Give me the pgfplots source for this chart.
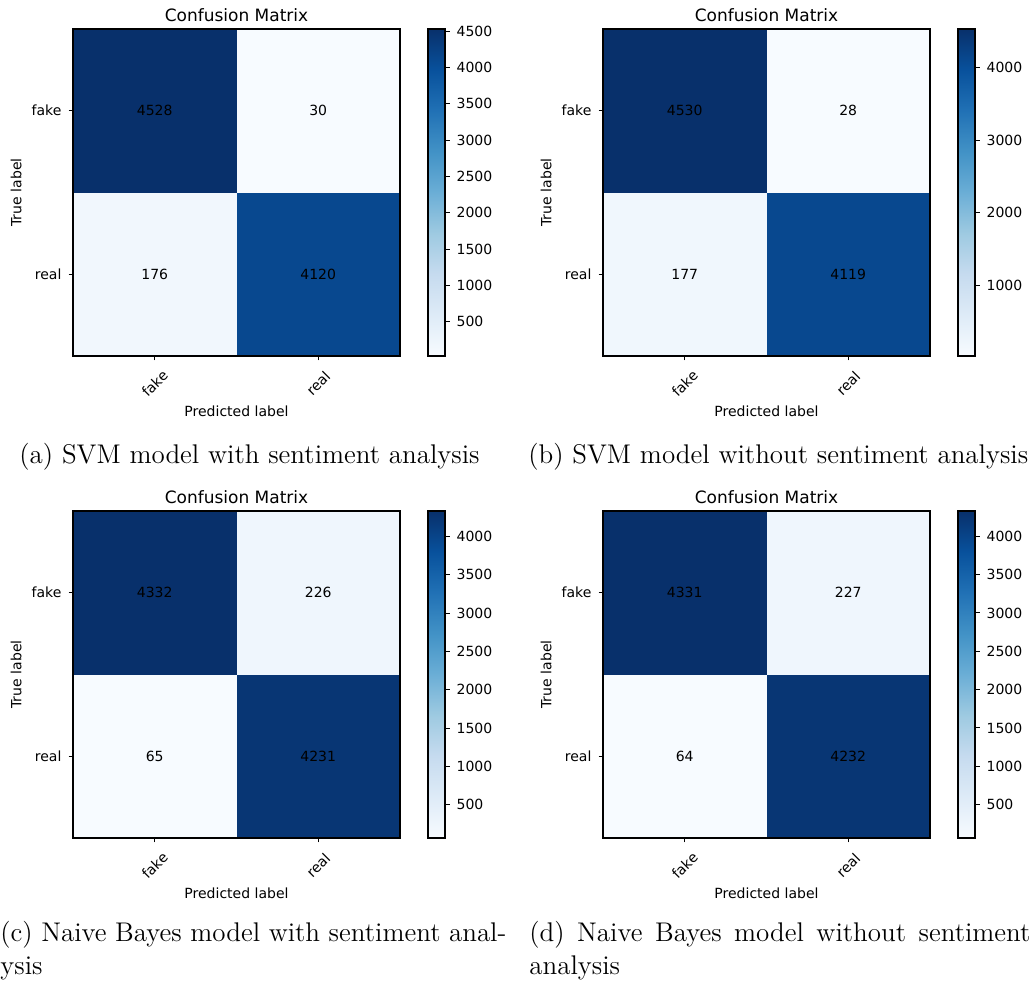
\documentclass[border=0pt]{standalone}
\usepackage{fontspec}
\usepackage{pgfplots}
\usepackage{pgfplotstable}
\pgfplotsset{compat=1.18}

\newfontfamily\mpl{DejaVu Sans}
\newcommand\tickfont{\mpl\fontsize{7}{8.4}\selectfont}
\newcommand\titlefont{\mpl\fontsize{8.5}{10}\selectfont}
\newcommand\capfont{\fontsize{13.5}{16}\selectfont}

% confusion matrices: x = predicted (0 fake, 1 real), y = true (1 fake, 0 real)
\pgfplotstableread{
x y c
0 0 176
1 0 4120
0 1 4528
1 1 30
}\svmwith
\pgfplotstableread{
x y c
0 0 177
1 0 4119
0 1 4530
1 1 28
}\svmwithout
\pgfplotstableread{
x y c
0 0 65
1 0 4231
0 1 4332
1 1 226
}\nbwith
\pgfplotstableread{
x y c
0 0 64
1 0 4232
0 1 4331
1 1 227
}\nbwithout

\pgfplotsset{
  /pgf/number format/1000 sep={},
  /pgf/number format/assume math mode=true,
  colormap={blues}{rgb255=(247,251,255) rgb255=(222,235,247) rgb255=(198,219,239)
    rgb255=(158,202,225) rgb255=(107,174,214) rgb255=(66,146,198)
    rgb255=(33,113,181) rgb255=(8,81,156) rgb255=(8,48,107)},
  confmat/.style={
    scale only axis, width=163.5pt, height=163.5pt, anchor=north west,
    xmin=-0.5, xmax=1.5, ymin=-0.5, ymax=1.5,
    axis on top, clip=false,
    xtick={0,1}, ytick={0,1},
    xticklabels={fake,real}, yticklabels={real,fake},
    tick align=outside, tick pos=left,
    major tick length=2.25pt,
    tick style={black, line width=0.5pt},
    axis line style={line width=0.7pt},
    xticklabel style={font=\tickfont, rotate=45, anchor=center},
    xticklabel shift=11.5pt,
    yticklabel style={font=\tickfont},
    title={Confusion Matrix},
    every axis title shift=0pt,
    title style={at={(axis description cs:0.5,1.043)}, anchor=center, font=\titlefont},
    xlabel={Predicted label}, ylabel={True label},
    every axis x label/.style={at={(axis description cs:0.5,-0.168)}, anchor=center, font=\tickfont},
    every axis y label/.style={at={(axis description cs:-0.174,0.5)}, anchor=center, rotate=90, font=\tickfont},
    % full frame round the image area, drawn after the cells
    extra description/.code={\draw[line width=0.7pt] (0,0) rectangle (1,1);},
    colormap name=blues,
    colorbar,
    colorbar style={
      at={(parent axis.north east)}, anchor=north west, xshift=5.5pt,
      width=8.5pt,
      ytick pos=right, yticklabel pos=right,
      tick align=outside, major tick length=2.25pt,
      tick style={black, line width=0.5pt},
      axis line style={line width=0.7pt},
      yticklabel style={font=\tickfont},
      extra description/.code={},
    },
  },
  % each cell is a filled square just inside its cell, coloured by its count;
  % the hair-thin gaps left between the squares form the light seams
  cmcells/.style={scatter, only marks, mark=square*, mark size=40.7pt,
    line width=0.2pt, point meta=\thisrow{c},
    scatter/use mapped color={draw=mapped color, fill=mapped color}},
  cmcounts/.style={only marks, mark=none, point meta=\thisrow{c},
    nodes near coords={\pgfmathprintnumber{\pgfplotspointmeta}},
    nodes near coords style={anchor=center, font=\tickfont, text=black}},
}

\begin{document}
\begin{tikzpicture}
\path[use as bounding box] (0,0) rectangle (515pt,-492pt);

% (a) SVM with sentiment analysis
\begin{axis}[confmat, at={(36.5pt,-14.5pt)},
  point meta min=30, point meta max=4528,
  colorbar style={ytick={500,1000,...,4500}}]
  \addplot[cmcells] table[x=x, y=y] {\svmwith};
  \addplot[cmcounts] table[x=x, y=y] {\svmwith};
\end{axis}

% (b) SVM without sentiment analysis
\begin{axis}[confmat, at={(301.5pt,-14.5pt)},
  point meta min=28, point meta max=4530,
  colorbar style={ytick={1000,2000,3000,4000}}]
  \addplot[cmcells] table[x=x, y=y] {\svmwithout};
  \addplot[cmcounts] table[x=x, y=y] {\svmwithout};
\end{axis}

% (c) Naive Bayes with sentiment analysis
\begin{axis}[confmat, at={(36.5pt,-255.5pt)},
  point meta min=65, point meta max=4332,
  colorbar style={ytick={500,1000,...,4000}}]
  \addplot[cmcells] table[x=x, y=y] {\nbwith};
  \addplot[cmcounts] table[x=x, y=y] {\nbwith};
\end{axis}

% (d) Naive Bayes without sentiment analysis
\begin{axis}[confmat, at={(301.5pt,-255.5pt)},
  point meta min=64, point meta max=4331,
  colorbar style={ytick={500,1000,...,4000}}]
  \addplot[cmcells] table[x=x, y=y] {\nbwithout};
  \addplot[cmcounts] table[x=x, y=y] {\nbwithout};
\end{axis}

% sub-captions
\node[anchor=base west, inner sep=0pt, font=\capfont] at (9.5pt,-232pt)
  {(a) SVM model with sentiment analysis};
\node[anchor=base west, inner sep=0pt, font=\capfont] at (264pt,-232pt)
  {(b) SVM model without sentiment analysis};
\node[anchor=base west, inner sep=0pt, font=\capfont] at (0pt,-471pt)
  {\makebox[253pt][s]{(c) Naive Bayes model with sentiment anal-}};
\node[anchor=base west, inner sep=0pt, font=\capfont] at (0pt,-487pt) {ysis};
\node[anchor=base west, inner sep=0pt, font=\capfont] at (264.5pt,-471pt)
  {\makebox[250.5pt][s]{(d) Naive Bayes model without sentiment}};
\node[anchor=base west, inner sep=0pt, font=\capfont] at (264.5pt,-487pt) {analysis};
\end{tikzpicture}
\end{document}
